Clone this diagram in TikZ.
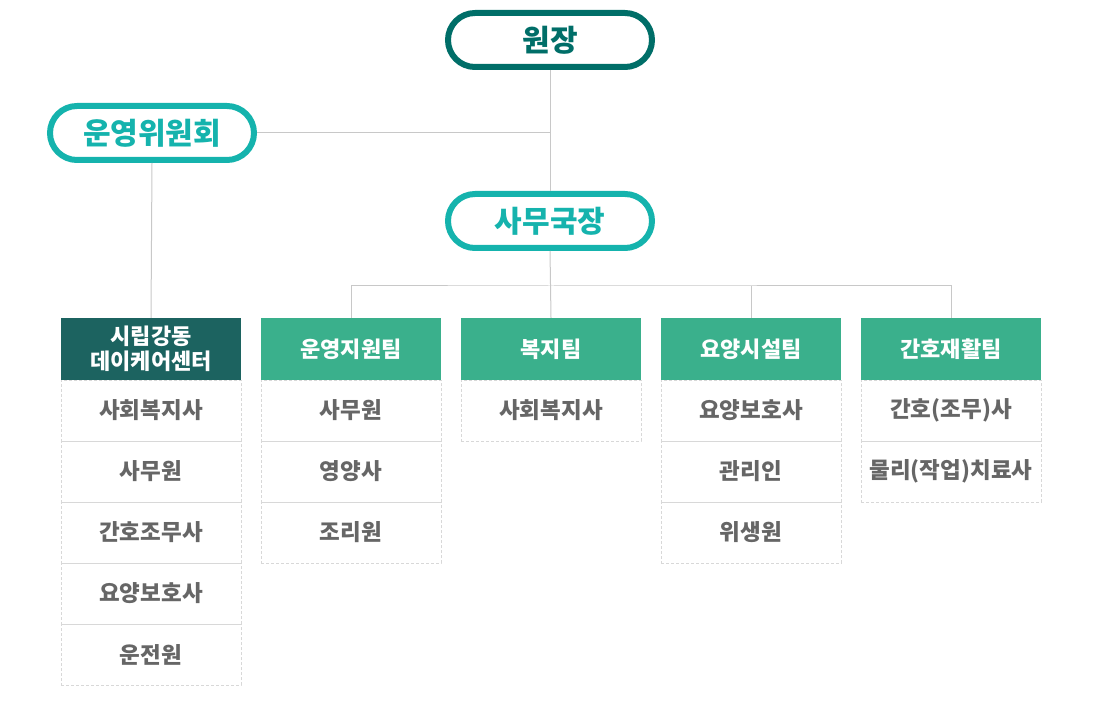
\documentclass[tikz,border=0pt]{standalone}
\usepackage{fontspec}
\setmainfont{Noto Sans CJK KR}[BoldFont={Noto Sans CJK KR Black}]
\usetikzlibrary{positioning}
\definecolor{darkteal}{HTML}{006E68}
\definecolor{teal2}{HTML}{15B3AD}
\definecolor{headgreen}{HTML}{3AB08C}
\definecolor{headdark}{HTML}{1C6360}
\definecolor{itemgray}{HTML}{666666}
\definecolor{linegray}{HTML}{C8C8C8}
\definecolor{dashgray}{HTML}{D8D8D8}
\begin{document}
\begin{tikzpicture}[x=1pt,y=-1pt,
 pill/.style={draw=#1,line width=6pt,rounded corners=27pt,minimum width=204pt,minimum height=54pt,text=#1,font=\bfseries\fontsize{30}{30}\selectfont},
 head/.style={fill=#1,text=white,minimum width=180pt,minimum height=62pt,inner sep=0pt,align=center,font=\bfseries\fontsize{22}{25}\selectfont},
 cell/.style={draw=dashgray,dashed,dash pattern=on 3pt off 2pt,line width=0.8pt,minimum width=180pt,minimum height=61pt,inner sep=0pt,text=itemgray,font=\bfseries\fontsize{22.5}{22.5}\selectfont},
 link/.style={draw=linegray,line width=1pt}]
 \useasboundingbox (0,0) rectangle (1100,708);
 \node[pill=darkteal] (boss) at (550,40) {원장};
 \node[pill=teal2] (cmte) at (152,133) {운영위원회};
 \node[pill=teal2] (chief) at (550,221) {사무국장};
 \node[head=headdark] (h1) at (151,349) {시립강동\\데이케어센터};
 \node[head=headgreen] (h2) at (351,349) {운영지원팀};
 \node[head=headgreen] (h3) at (551,349) {복지팀};
 \node[head=headgreen] (h4) at (751,349) {요양시설팀};
 \node[head=headgreen] (h5) at (951,349) {간호재활팀};
 \foreach \job [count=\i] in {사회복지사,사무원,간호조무사,요양보호사,운전원}
  \node[cell] (c1-\i) at (151,{349.5+61*\i}) {\job};
 \foreach \job [count=\i] in {사무원,영양사,조리원}
  \node[cell] (c2-\i) at (351,{349.5+61*\i}) {\job};
 \foreach \job [count=\i] in {사회복지사}
  \node[cell] (c3-\i) at (551,{349.5+61*\i}) {\job};
 \foreach \job [count=\i] in {요양보호사,관리인,위생원}
  \node[cell] (c4-\i) at (751,{349.5+61*\i}) {\job};
 \foreach \job [count=\i] in {간호(조무)사,물리(작업)치료사}
  \node[cell] (c5-\i) at (951,{349.5+61*\i}) {\job};
 \coordinate (bus) at (550,286);
 \draw[link] (boss.south) -- (chief.north);
 \draw[link] (cmte.east) -- (boss.south |- cmte.east);
 \draw[link] (cmte.south) -- (h1.north);
 \draw[link] (chief.south) -- (h3.north);
 \draw[link] (h2.north) |- (bus) -| (h5.north);
 \draw[link] (h4.north) -- (h4.north |- bus);
\end{tikzpicture}
\end{document}
